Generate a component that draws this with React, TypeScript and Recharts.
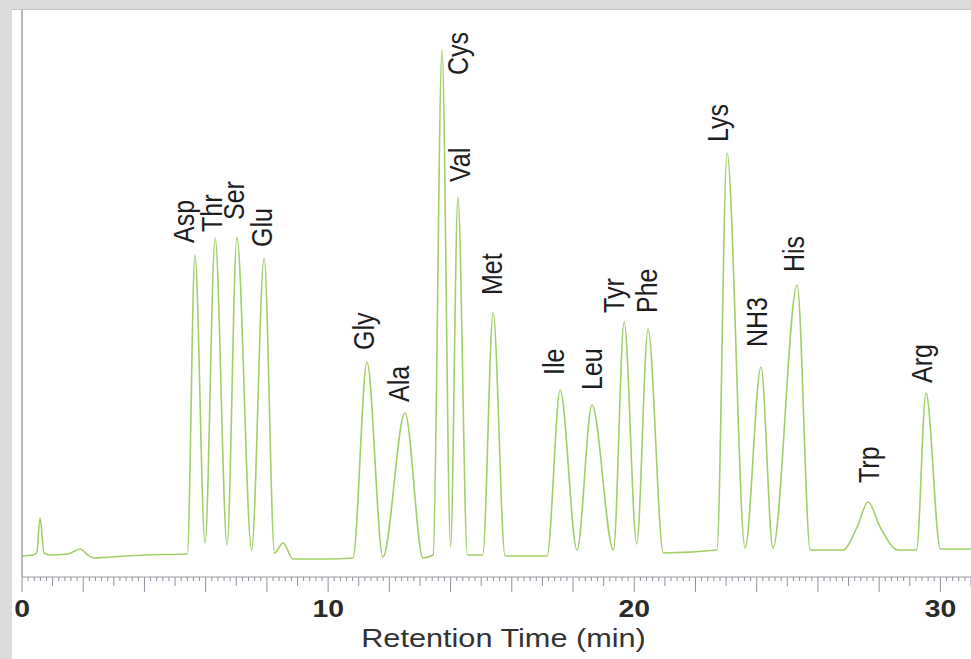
import { ComposedChart, Line, Scatter, XAxis, YAxis, Label } from "recharts"

// chromatogram trace: retention time (min) and detector signal (arbitrary units)
const traceTime = [
  0, 0.35, 0.48, 0.59, 0.72, 0.9, 1.5, 1.9, 2.15, 2.35, 2.9, 4.0,
  5.4, 5.65, 5.98, 6.31, 6.7, 7.02, 7.5, 7.91, 8.25, 8.53, 8.85, 10.0,
  10.81, 11.27, 11.79, 12.51, 13.1, 13.43, 13.72, 14.0, 14.24, 14.55,
  15.05, 15.39, 15.78, 17.15, 17.58, 18.13, 18.62, 19.32, 19.67, 20.08, 20.45, 20.95,
  22.7, 23.03, 23.62, 24.14, 24.53, 25.32, 25.75, 26.82, 27.28, 27.64, 28.03, 28.62,
  29.22, 29.53, 30.0, 31.0,
]
const traceSignal = [
  21, 22, 24, 59, 24, 22, 23, 28, 22, 19, 20, 22,
  23, 322, 34, 339, 32, 340, 27, 319, 24, 34, 18, 18,
  19, 215, 20, 164, 19, 22, 527, 30, 380, 22,
  22, 264, 21, 21, 187, 27, 172, 27, 255, 33, 248, 24,
  27, 424, 29, 210, 29, 292, 27, 27, 50, 75, 50, 27,
  27, 184, 28, 28,
]

// peak labels, anchored at the bottom of each rotated label
const peakNames = ["Asp", "Thr", "Ser", "Glu", "Gly", "Ala", "Cys", "Val", "Met", "Ile", "Leu", "Tyr", "Phe", "Lys", "NH3", "His", "Trp", "Arg"]
const labelTime = [5.29, 6.21, 6.93, 7.84, 11.17, 12.32, 14.24, 14.31, 15.35, 17.38, 18.62, 19.34, 20.42, 22.74, 24.01, 25.22, 27.67, 29.4]
const labelSignal = [334, 345, 357, 330, 227, 175, 502, 395, 282, 202, 187, 264, 264, 435, 230, 305, 94, 194]

const majorTicks = [0, 10, 20, 30]

const trace = traceTime.map((t, i) => ({ t, v: traceSignal[i] }))
const labels = peakNames.map((name, i) => ({ name, t: labelTime[i], v: labelSignal[i] }))

// minor ticks every 0.2 min
const axisTicks: number[] = []
for (let i = 0; i <= 155; i++) axisTicks.push(Math.round(i * 2) / 10)

const FONT = "'Liberation Sans', Arial, Helvetica, sans-serif"

function AxisTick({ x, y, payload }: any) {
  const step = Math.round(payload.value * 5)
  const len = step % 10 === 0 ? 15 : step % 5 === 0 ? 9 : 4
  const showLabel = majorTicks.includes(payload.value)
  return (
    <g transform={`translate(${x},${y})`}>
      <line x1={0} y1={0} x2={0} y2={len} stroke="#8c92a0" strokeWidth={1} />
      {showLabel && (
        <text transform="scale(1.18,1)" x={0} y={40} textAnchor="middle" fontSize={24} fontWeight="bold" fill="#2a2a2a" fontFamily={FONT}>
          {payload.value}
        </text>
      )}
    </g>
  )
}

function PeakLabel({ cx, cy, payload }: any) {
  return (
    <text
      transform={`translate(${cx},${cy}) scale(1.15,1) rotate(-90)`}
      x={0}
      y={0}
      textAnchor="start"
      dominantBaseline="central"
      fontSize={25}
      fill="#1e1e1e"
      fontFamily={FONT}
    >
      {payload.name}
    </text>
  )
}

function AxisTitle({ viewBox }: any) {
  const cx = viewBox.x + viewBox.width / 2 + 7
  return (
    <g transform={`translate(${cx},${viewBox.y + 70})`}>
      <text transform="scale(1.18,1)" x={0} y={0} textAnchor="middle" fontSize={26} fill="#333" fontFamily={FONT}>
        Retention Time (min)
      </text>
    </g>
  )
}

export default function App() {
  return (
    <div style={{ position: "absolute", left: 0, top: 0, width: 971, height: 659, background: "#dcdcdc", overflow: "hidden" }}>
      <div style={{ position: "absolute", left: 12, top: 9, width: 959, height: 650, background: "#ffffff", borderTop: "1px solid #c2c2c2" }}>
        <ComposedChart width={959} height={649} margin={{ top: 0, right: 0, bottom: 0, left: 0 }}>
          <XAxis
            dataKey="t"
            type="number"
            domain={[0, 31]}
            ticks={axisTicks}
            interval={0}
            tick={<AxisTick />}
            tickLine={false}
            tickSize={0}
            tickMargin={0}
            height={82}
            axisLine={{ stroke: "#9a9a9a", strokeWidth: 1 }}
            allowDataOverflow
          >
            <Label content={<AxisTitle />} />
          </XAxis>
          <YAxis
            dataKey="v"
            type="number"
            domain={[0, 567]}
            width={10}
            tick={false}
            tickLine={false}
            axisLine={{ stroke: "#a0a0a0", strokeWidth: 1.5 }}
            allowDataOverflow
          />
          <Line data={trace} dataKey="v" type="monotone" stroke="#a3cf68" strokeWidth={1.6} dot={false} isAnimationActive={false} />
          <Scatter data={labels} dataKey="v" shape={<PeakLabel />} isAnimationActive={false} />
        </ComposedChart>
      </div>
    </div>
  )
}
